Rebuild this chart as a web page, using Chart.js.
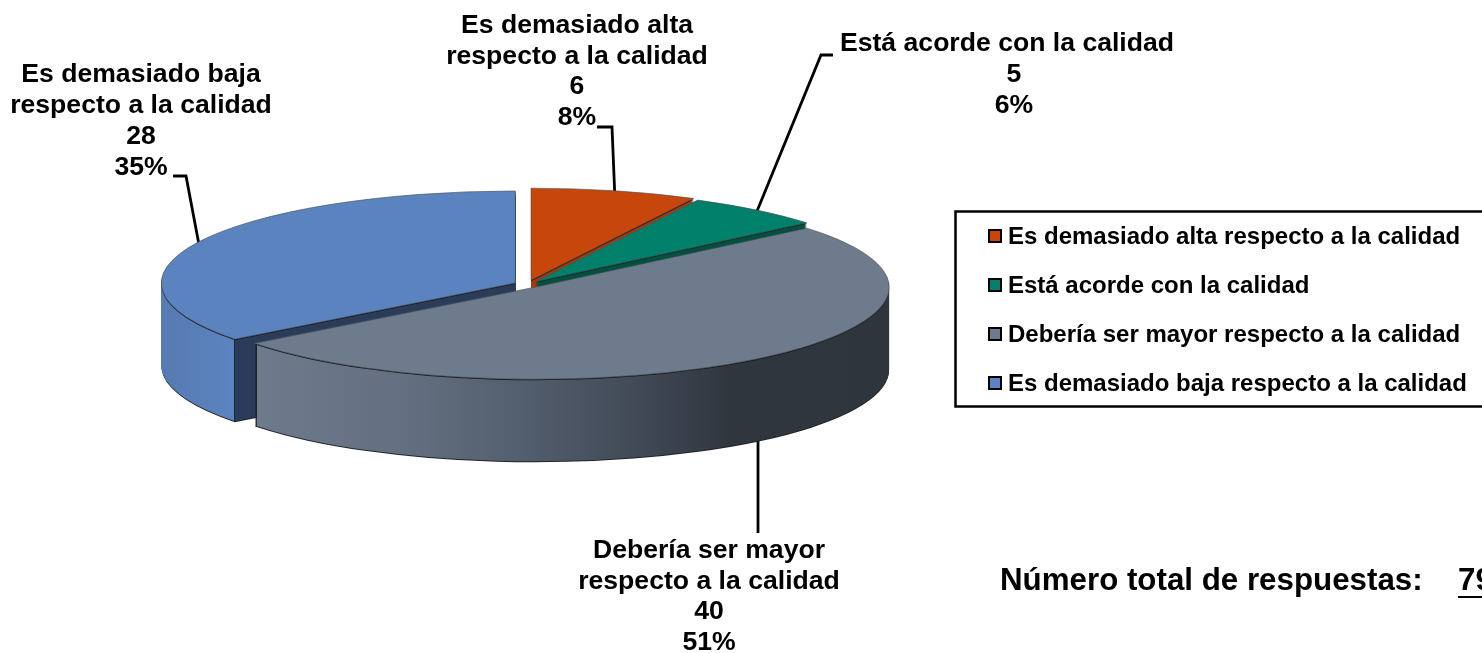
<!DOCTYPE html>
<html>
<head>
<meta charset="utf-8">
<script src="https://cdn.jsdelivr.net/npm/chart.js@4"></script>
<style>
  html, body { margin: 0; padding: 0; background: #fff; overflow: hidden; }
</style>
</head>
<body>
<canvas id="chart" width="1482" height="653"></canvas>
<script>
const categories = [
    'Es demasiado alta respecto a la calidad',
    'Está acorde con la calidad',
    'Debería ser mayor respecto a la calidad',
    'Es demasiado baja respecto a la calidad'
]
const answers = [6, 5, 40, 28]
const colors = ['#c7460b', '#00806a', '#6d7b8d', '#5b83bf']

// callout text per slice, same order as categories
const calloutLines = [
    ['Es demasiado alta', 'respecto a la calidad'],
    ['Está acorde con la calidad'],
    ['Debería ser mayor', 'respecto a la calidad'],
    ['Es demasiado baja', 'respecto a la calidad']
]
const calloutX = [577, 1007, 709, 141]
const calloutNumberX = [577, 1014, 709, 141]
const calloutY = [26, 44, 551, 75]
const calloutStep = [30.5, 31, 30.5, 31]
const leaders = [
    [[597, 127], [612, 127], [615, 200]],
    [[833, 55], [821, 55], [755, 216]],
    [[758, 533], [758, 430]],
    [[173, 176], [186, 176], [200, 250]]
]

const totalLabel = 'Número total de respuestas:'
const total = answers.reduce((a, b) => a + b, 0)

const squash = 0.26
const depth = 82
const explode = [17, 13, 13, 13]
const drawOrder = [3, 0, 1, 2]
const font = '"Liberation Sans", Arial, sans-serif'

function wallStyle(ctx, i, shiftX) {
    if (i == 0) return '#a63b0a'
    if (i == 1) return '#01513f'
    const g = ctx.createLinearGradient(150 - shiftX, 0, 900 - shiftX, 0)
    const stop = x => (x - 150) / 750
    if (i == 2) {
        g.addColorStop(stop(256.6), '#1c2026')
        g.addColorStop(stop(256.7), '#6d7b8d')
        g.addColorStop(stop(400), '#646f81')
        g.addColorStop(stop(520), '#535e6e')
        g.addColorStop(stop(640), '#414956')
        g.addColorStop(stop(730), '#30363e')
        g.addColorStop(1, '#2f353c')
    } else {
        g.addColorStop(0, '#5679b0')
        g.addColorStop(stop(233.5), '#5b83bf')
        g.addColorStop(stop(233.6), '#1c2638')
        g.addColorStop(stop(235), '#1c2638')
        g.addColorStop(stop(235.1), '#2a3c5a')
        g.addColorStop(1, '#2a3c5a')
    }
    return g
}

function drawLayer(ctx, arc, dy, fill, stroke) {
    const saved = arc.options
    arc.options = {...saved, backgroundColor: fill, borderColor: stroke || fill, borderWidth: stroke ? 1 : 0}
    ctx.save()
    ctx.translate(0, dy / squash)
    arc.draw(ctx)
    ctx.restore()
    arc.options = saved
}

const pie3d = {
    id: 'pie3d',
    beforeDatasetsDraw(chart) {
        const ctx = chart.ctx
        ctx.save()
        ctx.strokeStyle = '#000'
        ctx.lineWidth = 2.8
        leaders.forEach(pts => {
            ctx.beginPath()
            pts.forEach((p, n) => n ? ctx.lineTo(p[0], p[1]) : ctx.moveTo(p[0], p[1]))
            ctx.stroke()
        })
        ctx.restore()

        const arcs = chart.getDatasetMeta(0).data
        drawOrder.forEach(i => {
            const arc = arcs[i]
            const mid = (arc.startAngle + arc.endAngle) / 2
            const shiftX = Math.cos(mid) * explode[i]
            const shiftY = Math.sin(mid) * explode[i]
            ctx.save()
            ctx.translate(arc.x + shiftX, arc.y + shiftY * squash)
            ctx.scale(1, squash)
            ctx.translate(-arc.x, -arc.y)
            const wall = wallStyle(ctx, i, shiftX)
            drawLayer(ctx, arc, depth + 1, '#20242a', null)
            for (let d = depth; d > 1; d--) {
                drawLayer(ctx, arc, d, wall, null)
            }
            drawLayer(ctx, arc, 1, '#15181c', null)
            drawLayer(ctx, arc, 0, colors[i], '#4a4f57')
            ctx.restore()
        })
        return false
    },
    afterDraw(chart) {
        const ctx = chart.ctx
        ctx.save()
        ctx.fillStyle = '#000'
        ctx.textBaseline = 'middle'

        // callouts
        ctx.font = 'bold 26.6px ' + font
        ctx.textAlign = 'center'
        categories.forEach((c, i) => {
            const n = calloutLines[i].length
            calloutLines[i].forEach((t, k) => ctx.fillText(t, calloutX[i], calloutY[i] + k * calloutStep[i]))
            ctx.fillText(String(answers[i]), calloutNumberX[i], calloutY[i] + n * calloutStep[i])
            ctx.fillText(Math.round(answers[i] / total * 100) + '%', calloutNumberX[i], calloutY[i] + (n + 1) * calloutStep[i])
        })

        // legend
        ctx.strokeStyle = '#000'
        ctx.lineWidth = 2.5
        ctx.strokeRect(955.5, 211.5, 540, 195)
        ctx.textAlign = 'left'
        ctx.font = 'bold 24px ' + font
        categories.forEach((c, i) => {
            const y = 237 + i * 49
            ctx.fillStyle = colors[i]
            ctx.lineWidth = 2
            ctx.fillRect(989, y - 7, 12, 12)
            ctx.strokeRect(989, y - 7, 12, 12)
            ctx.fillStyle = '#000'
            ctx.fillText(c, 1008, y)
        })

        // total
        ctx.font = 'bold 31.3px ' + font
        ctx.fillText(totalLabel, 1000, 581)
        ctx.fillText(String(total), 1458, 581)
        ctx.fillRect(1458, 596, 40, 2)
        ctx.restore()
    }
}

new Chart(document.getElementById('chart'), {
    type: 'pie',
    data: {
        labels: categories,
        datasets: [{
            data: answers,
            backgroundColor: colors,
            borderWidth: 0
        }]
    },
    options: {
        responsive: false,
        animation: false,
        radius: 354,
        layout: {padding: {right: 428, bottom: 84}},
        plugins: {
            legend: {display: false},
            tooltip: {enabled: false}
        }
    },
    plugins: [pie3d]
})
</script>
</body>
</html>
